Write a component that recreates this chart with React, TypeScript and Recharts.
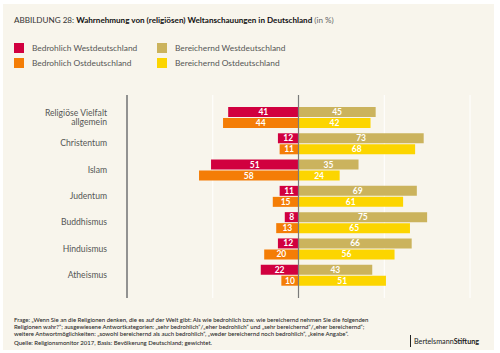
import { BarChart, Bar, XAxis, YAxis, CartesianGrid, ReferenceLine, LabelList } from 'recharts'

const CATEGORIES = ['Religiöse Vielfalt allgemein', 'Christentum', 'Islam', 'Judentum', 'Buddhismus', 'Hinduismus', 'Atheismus']
const THREAT_WEST = [41, 12, 51, 11, 8, 12, 22]
const THREAT_EAST = [44, 11, 58, 15, 13, 20, 10]
const ENRICH_WEST = [45, 73, 35, 69, 75, 66, 43]
const ENRICH_EAST = [42, 68, 24, 61, 65, 56, 51]
const X_TICKS = [-100, -50, 0, 50, 100]

const LABELS = {
	THREAT_WEST: 'Bedrohlich Westdeutschland',
	THREAT_EAST: 'Bedrohlich Ostdeutschland',
	ENRICH_WEST: 'Bereichernd Westdeutschland',
	ENRICH_EAST: 'Bereichernd Ostdeutschland',
}

const COLORS = {
	THREAT_WEST: '#d1003f',
	THREAT_EAST: '#f47d06',
	ENRICH_WEST: '#cbb35d',
	ENRICH_EAST: '#fcd500',
	PANEL: '#f8f5ec',
}

// bedrohlich nach links (negativ), bereichernd nach rechts
const data = CATEGORIES.map((name, i) => ({
	name,
	threatWest: -THREAT_WEST[i],
	threatEast: -THREAT_EAST[i],
	enrichWest: ENRICH_WEST[i],
	enrichEast: ENRICH_EAST[i],
}))

const absFormat = (v: any) => Math.abs(Number(v))

const CategoryTick = ({ x, y, payload }: any) => {
	const words: string[] = payload.value === 'Religiöse Vielfalt allgemein' ? ['Religiöse Vielfalt', 'allgemein'] : [payload.value]
	const startDy = -((words.length - 1) * 9) / 2 + 3
	return (
		<text x={x} y={y} textAnchor="end" fill="#555" fontSize={8.6} fontFamily="Lato">
			{words.map((w, i) => (
				<tspan key={w} x={x} dy={i === 0 ? startDy : 9}>
					{w}
				</tspan>
			))}
		</text>
	)
}

const TopTick = ({ x, y, payload }: any) => {
	if (Math.abs(payload.value) === 100) return null
	return (
		<text x={x} y={y + 6} textAnchor="middle" fill="#ffffff" fontSize={7} fontFamily="Lato">
			{Math.abs(payload.value)}
		</text>
	)
}

const LegendItem = ({ color, label, x, y }: { color: string; label: string; x: number; y: number }) => (
	<div style={{ position: 'absolute', left: x, top: y, display: 'flex', alignItems: 'center' }}>
		<div style={{ width: 10, height: 10, background: color }} />
		<span style={{ marginLeft: 8, fontSize: 8.4, color: '#555', whiteSpace: 'nowrap' }}>{label}</span>
	</div>
)

const labelProps = { position: 'center' as const, fill: '#ffffff', fontSize: 8.5, fontWeight: 700, formatter: absFormat }

export default function App() {
	return (
		<div style={{ position: 'relative', width: 500, height: 353, background: '#ffffff', fontFamily: 'Lato, sans-serif', overflow: 'hidden' }}>
			<style>{'body{margin:0}'}</style>
			<div style={{ position: 'absolute', left: 3, top: 4, width: 491, height: 346, background: COLORS.PANEL }} />

			<div style={{ position: 'absolute', left: 14, top: 15, fontSize: 8.1, color: '#333', whiteSpace: 'nowrap' }}>
				ABBILDUNG 28: <b style={{ color: '#111' }}>Wahrnehmung von (religiösen) Weltanschauungen in Deutschland</b>{' '}
				<span style={{ color: '#666' }}>(in %)</span>
			</div>

			<LegendItem color={COLORS.THREAT_WEST} label={LABELS.THREAT_WEST} x={14} y={43} />
			<LegendItem color={COLORS.THREAT_EAST} label={LABELS.THREAT_EAST} x={14} y={58} />
			<LegendItem color={COLORS.ENRICH_WEST} label={LABELS.ENRICH_WEST} x={157} y={43} />
			<LegendItem color={COLORS.ENRICH_EAST} label={LABELS.ENRICH_EAST} x={157} y={58} />

			<div style={{ position: 'absolute', left: 0, top: 0 }}>
				<BarChart
					width={500}
					height={353}
					data={data}
					layout="vertical"
					stackOffset="sign"
					barSize={10}
					barGap={1}
					margin={{ top: 95, right: 30, bottom: 55, left: 0 }}
				>
					<CartesianGrid horizontal={false} stroke="#ffffff" strokeWidth={1} />
					<XAxis
						type="number"
						orientation="top"
						domain={[-100, 100]}
						ticks={X_TICKS}
						height={0}
						axisLine={false}
						tickLine={false}
						tick={<TopTick />}
					/>
					<YAxis
						type="category"
						dataKey="name"
						width={127}
						padding={{ top: 9, bottom: 10 }}
						axisLine={{ stroke: '#6f6f6f', strokeWidth: 1.5 }}
						tickLine={false}
						tick={<CategoryTick />}
						tickMargin={14}
						interval={0}
					/>
					<ReferenceLine x={0} stroke="#7a7a7a" strokeWidth={1.2} />
					<Bar dataKey="threatWest" stackId="west" fill={COLORS.THREAT_WEST} isAnimationActive={false}>
						<LabelList dataKey="threatWest" {...labelProps} />
					</Bar>
					<Bar dataKey="enrichWest" stackId="west" fill={COLORS.ENRICH_WEST} isAnimationActive={false}>
						<LabelList dataKey="enrichWest" {...labelProps} />
					</Bar>
					<Bar dataKey="threatEast" stackId="east" fill={COLORS.THREAT_EAST} isAnimationActive={false}>
						<LabelList dataKey="threatEast" {...labelProps} />
					</Bar>
					<Bar dataKey="enrichEast" stackId="east" fill={COLORS.ENRICH_EAST} isAnimationActive={false}>
						<LabelList dataKey="enrichEast" {...labelProps} />
					</Bar>
				</BarChart>
			</div>

			<div style={{ position: 'absolute', left: 14, top: 315.5, fontSize: 6, lineHeight: '7px', color: '#2a2a2a', fontWeight: 500, whiteSpace: 'nowrap' }}>
				Frage: „Wenn Sie an die Religionen denken, die es auf der Welt gibt: Als wie bedrohlich bzw. wie bereichernd nehmen Sie die folgenden
				<br />
				Religionen wahr?“; ausgewiesene Antwortkategorien: „sehr bedrohlich“/„eher bedrohlich“ und „sehr bereichernd“/„eher bereichernd“;
				<br />
				weitere Antwortmöglichkeiten: „sowohl bereichernd als auch bedrohlich“, „weder bereichernd noch bedrohlich“, „keine Angabe“.
			</div>
			<div style={{ position: 'absolute', left: 14, top: 338.5, fontSize: 6, color: '#2a2a2a', fontWeight: 500, whiteSpace: 'nowrap' }}>
				Quelle: Religionsmonitor 2017, Basis: Bevölkerung Deutschland; gewichtet.
			</div>
			<div style={{ position: 'absolute', left: 410, top: 335, height: 12, borderLeft: '1.5px solid #222' }} />
			<div style={{ position: 'absolute', left: 414, top: 337, fontSize: 7.2, color: '#222', whiteSpace: 'nowrap' }}>
				Bertelsmann<b>Stiftung</b>
			</div>
		</div>
	)
}
